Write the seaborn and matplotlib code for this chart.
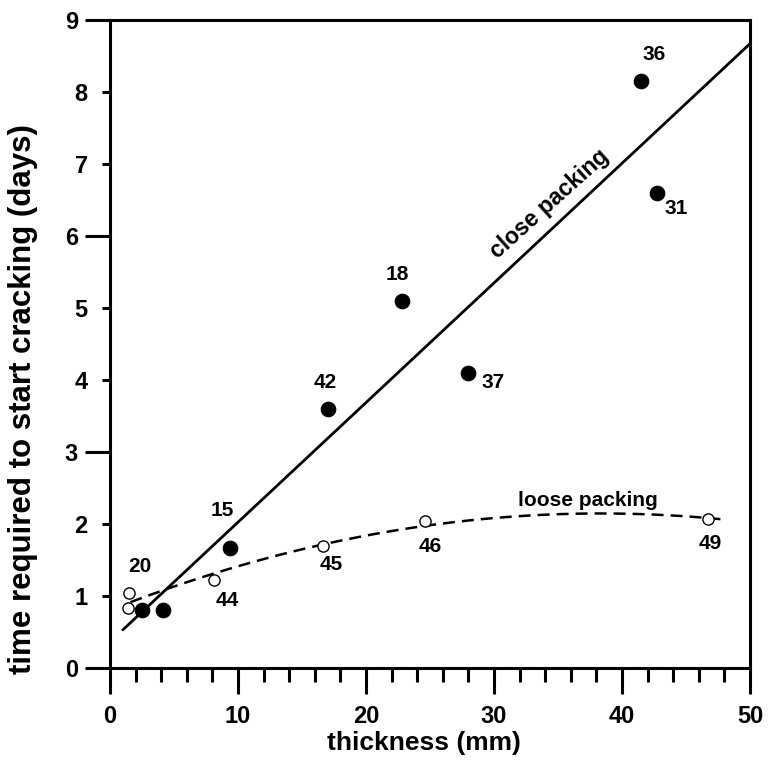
import numpy as np
import pandas as pd
import matplotlib
matplotlib.use("Agg")
import matplotlib.pyplot as plt
import seaborn as sns

# Close packing samples (filled markers)
close_x = [41.5, 42.7, 22.8, 28.0, 17.0, 9.4, 2.5, 4.1]
close_y = [8.15, 6.6, 5.1, 4.1, 3.6, 1.67, 0.8, 0.8]
close_id = ["36", "31", "18", "37", "42", "15", "", ""]

# Loose packing samples (open markers)
loose_x = [1.5, 1.4, 8.1, 16.6, 24.6, 46.7]
loose_y = [1.04, 0.83, 1.22, 1.69, 2.04, 2.07]
loose_id = ["20", "", "44", "45", "46", "49"]

x_ticks = [0, 10, 20, 30, 40, 50]
y_ticks = list(range(0, 10))

sns.set_theme(style="white")
plt.rcParams["font.family"] = ["Liberation Sans", "DejaVu Sans"]
plt.rcParams["font.weight"] = "bold"
plt.rcParams["text.color"] = "black"
plt.rcParams["axes.labelcolor"] = "black"
plt.rcParams["xtick.color"] = "black"
plt.rcParams["ytick.color"] = "black"

fig = plt.figure(figsize=(7.71, 7.62), dpi=100)
ax = fig.add_axes([0.1427, 0.1234, 0.8301, 0.8504])

close_df = pd.DataFrame({"x": close_x, "y": close_y, "id": close_id})
loose_df = pd.DataFrame({"x": loose_x, "y": loose_y, "id": loose_id})

# Least-squares fits: linear for close packing, quadratic for loose packing
c_lin = np.polyfit(close_df["x"], close_df["y"], 1)
xs_c = np.linspace(1.0, 50.0, 100)
c_quad = np.polyfit(loose_df["x"], loose_df["y"], 2)
xs_l = np.linspace(1.6, 48.0, 200)

sns.lineplot(x=xs_c, y=np.polyval(c_lin, xs_c), ax=ax, color="black", lw=2.0)
sns.lineplot(x=xs_l, y=np.polyval(c_quad, xs_l), ax=ax, color="black", lw=1.8,
             linestyle=(0, (4.8, 2.8)))

sns.scatterplot(data=close_df, x="x", y="y", ax=ax, color="black", s=110,
                edgecolor="black", linewidth=0.8, zorder=5)
sns.scatterplot(data=loose_df, x="x", y="y", ax=ax, facecolor="white", s=65,
                edgecolor="black", linewidth=1.0, zorder=5)

# Sample number labels (offsets in points)
close_off = {"36": (9, 19), "31": (14, -11), "18": (-3, 19), "37": (18, -7),
             "42": (-2, 19), "15": (-6, 27)}
loose_off = {"20": (8, 19), "44": (10, -15), "45": (6, -13), "46": (4, -18),
             "49": (2, -18)}
lab_font = dict(fontsize=15, fontweight="bold", ha="center", va="center",
                color="black")
for _, r in close_df.iterrows():
    if r["id"]:
        ax.annotate(r["id"], (r["x"], r["y"]), xytext=close_off[r["id"]],
                    textcoords="offset points", **lab_font)
for _, r in loose_df.iterrows():
    if r["id"]:
        ax.annotate(r["id"], (r["x"], r["y"]), xytext=loose_off[r["id"]],
                    textcoords="offset points", **lab_font)

ax.text(34.3, 6.44, "close packing", rotation=42, fontsize=16.5,
        fontweight="bold", ha="center", va="center", rotation_mode="anchor",
        color="black")
ax.text(37.3, 2.33, "loose packing", fontsize=15, fontweight="bold",
        ha="center", va="center", color="black")

ax.set_xlim(0, 50)
ax.set_ylim(0, 9)
ax.set_xticks(x_ticks)
ax.set_xticks(np.arange(0, 51, 2), minor=True)
ax.set_yticks([0, 3, 6, 9])
ax.set_yticks(y_ticks, minor=True)
ax.set_yticklabels(["0", "3", "6", "9"])
ax.set_yticklabels([str(v) for v in y_ticks], minor=True)

for side in ["left", "bottom", "top", "right"]:
    ax.spines[side].set_visible(True)
    ax.spines[side].set_color("black")
    ax.spines[side].set_linewidth(2.2)

ax.tick_params(axis="x", which="major", direction="out", length=19,
               width=2.2, color="black", labelsize=17, pad=8,
               labelcolor="black")
ax.tick_params(axis="x", which="minor", direction="out", length=10,
               width=2.2, color="black")
ax.tick_params(axis="y", which="major", direction="out", length=18,
               width=2.2, color="black", labelsize=17, pad=5,
               labelcolor="black")
ax.tick_params(axis="y", which="minor", direction="out", length=6,
               width=2.2, color="black", labelsize=17, pad=10,
               labelcolor="black")
ax.tick_params(axis="x", which="both", bottom=True, labelbottom=True)
ax.tick_params(axis="y", which="both", left=True, labelleft=True)
for lab in ax.get_xticklabels() + ax.get_yticklabels() + \
        ax.get_yticklabels(minor=True):
    lab.set_fontweight("bold")

ax.set_xlabel("thickness (mm)", fontsize=19, fontweight="bold",
              color="black")
ax.set_ylabel("time required to start cracking (days)", fontsize=22.5,
              fontweight="bold", color="black")
ax.xaxis.set_label_coords(0.49, -0.098)
ax.yaxis.set_label_coords(-0.112, 0.415)

fig.savefig("out.png", dpi=100, facecolor="white")
